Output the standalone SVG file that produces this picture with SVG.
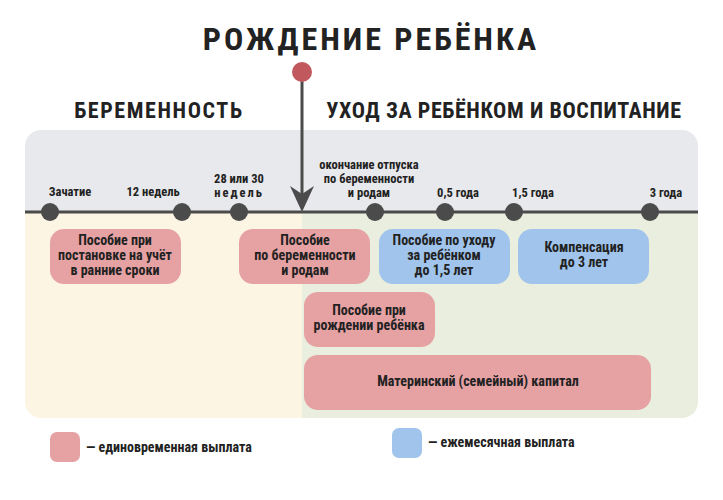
<svg xmlns="http://www.w3.org/2000/svg" width="723" height="500" viewBox="0 0 723 500">
<defs>
<style>
text{font-family:"Roboto Condensed","Liberation Sans Narrow","Roboto","Liberation Sans",sans-serif;font-weight:bold;fill:#222;text-anchor:middle}
.lbl{font-size:12.5px}
.box{font-size:14px}
.pink{fill:#e6a1a3}
.blue{fill:#a0c4ec}
.dot{fill:#4b4b4b}
.hdr{font-size:22px;letter-spacing:1.6px}
.leg{font-size:14px;text-anchor:start}
</style>
<clipPath id="panel"><rect x="25" y="130" width="673" height="288" rx="16"/></clipPath>
</defs>
<rect width="723" height="500" fill="#fff"/>
<g clip-path="url(#panel)">
<rect x="25" y="130" width="673" height="82" fill="#e8e9ec"/>
<rect x="25" y="212" width="277" height="206" fill="#fcf5e4"/>
<rect x="302" y="212" width="396" height="206" fill="#e9eede"/>
</g>
<text x="371" y="50" style="font-size:32px;letter-spacing:3px">РОЖДЕНИЕ РЕБЁНКА</text>
<text x="159" y="118" class="hdr">БЕРЕМЕННОСТЬ</text>
<text x="504" y="118" class="hdr" style="letter-spacing:0.6px">УХОД ЗА РЕБЁНКОМ И ВОСПИТАНИЕ</text>
<g id="connectors">
<line x1="25" y1="212" x2="698" y2="212" stroke="#4b4b4b" stroke-width="3"/>
<line x1="302" y1="72" x2="302" y2="200" stroke="#4b4b4b" stroke-width="3"/>
<path d="M290 186 L302 212 L314 186 L302 194 Z" fill="#4b4b4b"/>
</g>
<g id="birth"><circle cx="302" cy="72" r="10" fill="#c1585d"/></g>
<g id="t1"><circle class="dot" cx="50" cy="212" r="9"/><text class="lbl" x="70" y="196">Зачатие</text></g>
<g id="t2"><circle class="dot" cx="182" cy="212" r="9"/><text class="lbl" x="153" y="196">12 недель</text></g>
<g id="t3"><circle class="dot" cx="239" cy="212" r="9"/><text class="lbl" x="239" y="183">28 или 30</text><text class="lbl" x="239" y="197" style="letter-spacing:2px">недель</text></g>
<g id="t4"><circle class="dot" cx="375" cy="212" r="9"/><text class="lbl" x="369" y="169">окончание отпуска</text><text class="lbl" x="369" y="183">по беременности</text><text class="lbl" x="369" y="197">и родам</text></g>
<g id="t5"><circle class="dot" cx="445" cy="212" r="9"/><text class="lbl" x="458" y="197">0,5 года</text></g>
<g id="t6"><circle class="dot" cx="514" cy="212" r="9"/><text class="lbl" x="533" y="197">1,5 года</text></g>
<g id="t7"><circle class="dot" cx="650" cy="212" r="9"/><text class="lbl" x="666" y="197">3 года</text></g>
<g id="b1"><rect class="pink" x="50" y="229" width="131" height="55" rx="14"/><text class="box" x="115" y="245">Пособие при</text><text class="box" x="115" y="260">постановке на учёт</text><text class="box" x="115" y="275">в ранние сроки</text></g>
<g id="b2"><rect class="pink" x="239" y="229" width="131" height="55" rx="14"/><text class="box" x="305" y="245">Пособие</text><text class="box" x="305" y="260">по беременности</text><text class="box" x="305" y="275">и родам</text></g>
<g id="b3"><rect class="blue" x="379" y="229" width="131" height="55" rx="14"/><text class="box" x="444" y="245">Пособие по уходу</text><text class="box" x="444" y="260">за ребёнком</text><text class="box" x="444" y="275">до 1,5 лет</text></g>
<g id="b4"><rect class="blue" x="518" y="229" width="131" height="55" rx="14"/><text class="box" x="584" y="252">Компенсация</text><text class="box" x="584" y="267">до 3 лет</text></g>
<g id="b5"><rect class="pink" x="304" y="292" width="131" height="55" rx="14"/><text class="box" x="369" y="315">Пособие при</text><text class="box" x="369" y="330">рождении ребёнка</text></g>
<g id="b6"><rect class="pink" x="304" y="355" width="347" height="55" rx="14"/><text class="box" x="478" y="386">Материнский (семейный) капитал</text></g>
<g id="legend">
<rect class="pink" x="50" y="432" width="30" height="30" rx="7"/><text class="leg" x="86" y="452">— единовременная выплата</text>
<rect class="blue" x="392" y="428" width="30" height="30" rx="7"/><text class="leg" x="428" y="447">— ежемесячная выплата</text>
</g>
</svg>
